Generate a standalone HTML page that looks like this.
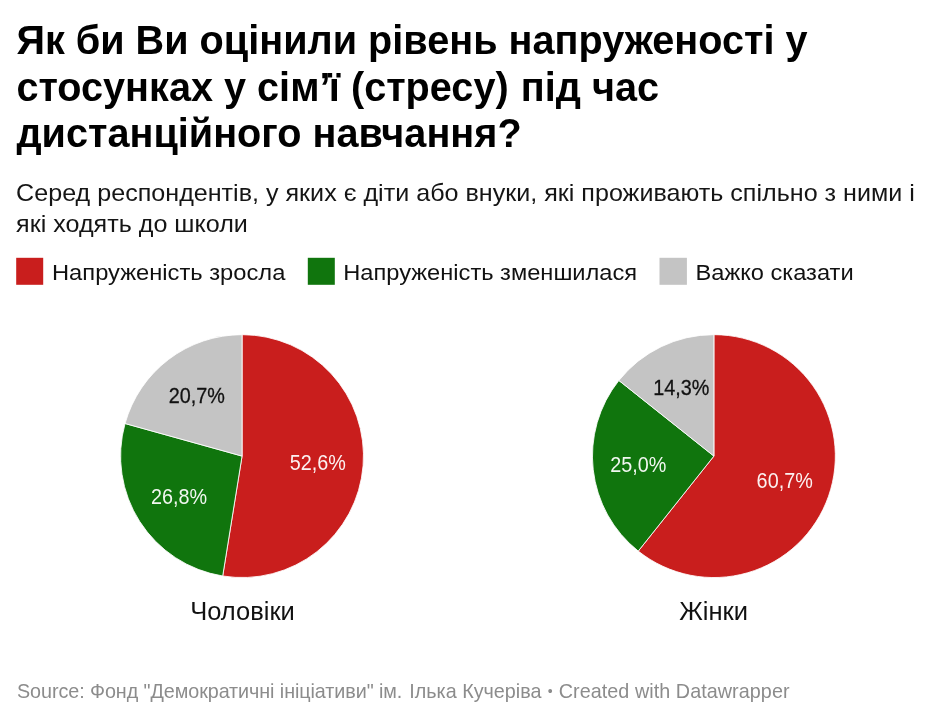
<!DOCTYPE html>
<html lang="uk">
<head>
<meta charset="utf-8">
<title>Chart</title>
<style>
html,body{margin:0;padding:0;background:#fff;}
body{width:943px;height:719px;position:relative;overflow:hidden;font-family:"Liberation Sans",sans-serif;}
svg{position:absolute;left:0;top:0;display:block;}
svg text{font-family:"Liberation Sans",sans-serif;}
</style>
</head>
<body>
<svg width="943" height="719" viewBox="0 0 943 719">
  <rect x="16.2" y="257.8" width="27" height="27" fill="#c91e1d"/>
  <rect x="307.8" y="257.8" width="27" height="27" fill="#10750d"/>
  <rect x="659.5" y="257.8" width="27.4" height="27" fill="#c4c4c4"/>
  <g id="pie1">
    <path d="M242.05,456.10L242.05,334.65A121.45,121.45 0 1 1 222.69,576.00Z" fill="#c91e1d" stroke="#fff" stroke-width="0.85" stroke-linejoin="round"/>
    <path d="M242.05,456.10L222.69,576.00A121.45,121.45 0 0 1 125.05,423.53Z" fill="#10750d" stroke="#fff" stroke-width="0.85" stroke-linejoin="round"/>
    <path d="M242.05,456.10L125.05,423.53A121.45,121.45 0 0 1 242.05,334.65Z" fill="#c4c4c4" stroke="#fff" stroke-width="0.85" stroke-linejoin="round"/>
  </g>
  <g id="pie2">
    <path d="M713.90,456.10L713.90,334.65A121.45,121.45 0 1 1 638.26,551.12Z" fill="#c91e1d" stroke="#fff" stroke-width="0.85" stroke-linejoin="round"/>
    <path d="M713.90,456.10L638.26,551.12A121.45,121.45 0 0 1 618.88,380.46Z" fill="#10750d" stroke="#fff" stroke-width="0.85" stroke-linejoin="round"/>
    <path d="M713.90,456.10L618.88,380.46A121.45,121.45 0 0 1 713.90,334.65Z" fill="#c4c4c4" stroke="#fff" stroke-width="0.85" stroke-linejoin="round"/>
  </g>
  <text id="t1" transform="translate(16.4,53.6) scale(0.9815,1)" font-size="40.4" fill="#000" font-weight="bold">Як би Ви оцінили рівень напруженості у</text>
  <text id="t2" transform="translate(16.4,100.5) scale(0.9815,1)" font-size="40.4" fill="#000" font-weight="bold">стосунках у сім’<tspan dx="-1.7">ї (стресу)</tspan><tspan dx="1.2"> під час</tspan></text>
  <text id="t3" transform="translate(16.4,147.4) scale(0.9815,1)" font-size="40.4" fill="#000" font-weight="bold">дистанційного навчання?</text>
  <text id="s1" transform="translate(16.1,200.9) scale(1.038,1)" font-size="24.2" fill="#151515">Серед респондентів, у яких є діти або внуки, які проживають спільно з ними і</text>
  <text id="s2" transform="translate(16.1,231.8) scale(1.038,1)" font-size="24.2" fill="#151515">які ходять до школи</text>
  <text id="l1" transform="translate(52.0,279.6) scale(1.036,1)" font-size="22.9" fill="#111">Напруженість зросла</text>
  <text id="l2" transform="translate(343.3,279.6) scale(1.033,1)" font-size="22.9" fill="#111">Напруженість зменшилася</text>
  <text id="l3" transform="translate(695.5,279.6) scale(1.033,1)" font-size="22.9" fill="#111">Важко сказати</text>
  <text id="a1" transform="translate(317.9,469.5) scale(0.873,1)" font-size="22.7" fill="#fff" text-anchor="middle" fill-opacity="0.94">52,6%</text>
  <text id="a2" transform="translate(179,504) scale(0.873,1)" font-size="22.7" fill="#fff" text-anchor="middle" fill-opacity="0.94">26,8%</text>
  <text id="a3" transform="translate(196.8,402.5) scale(0.873,1)" font-size="22.7" fill="#111" text-anchor="middle" stroke="#111" stroke-width="0.3">20,7%</text>
  <text id="b1" transform="translate(784.7,488.1) scale(0.873,1)" font-size="22.7" fill="#fff" text-anchor="middle" fill-opacity="0.94">60,7%</text>
  <text id="b2" transform="translate(638.3,471.8) scale(0.873,1)" font-size="22.7" fill="#fff" text-anchor="middle" fill-opacity="0.94">25,0%</text>
  <text id="b3" transform="translate(681.4,394.8) scale(0.873,1)" font-size="22.7" fill="#111" text-anchor="middle" stroke="#111" stroke-width="0.3">14,3%</text>
  <text id="c1" transform="translate(242.5,619.6) scale(1.013,1)" font-size="25.2" fill="#111" text-anchor="middle">Чоловіки</text>
  <text id="c2" transform="translate(713.6,619.6) scale(1.013,1)" font-size="25.2" fill="#111" text-anchor="middle">Жінки</text>
  <text id="f1" y="697.85" font-size="19.75" fill="#8c8c8c"><tspan x="17" letter-spacing="-0.07">Source: Фонд "Демократичні ініціативи" ім. </tspan><tspan x="409.3">Ілька Кучеріва </tspan><tspan x="547.8" dy="-1.6" font-size="14">• </tspan><tspan x="558.7" dy="1.6" letter-spacing="0.06">Created with Datawrapper</tspan></text>
</svg>
</body>
</html>
